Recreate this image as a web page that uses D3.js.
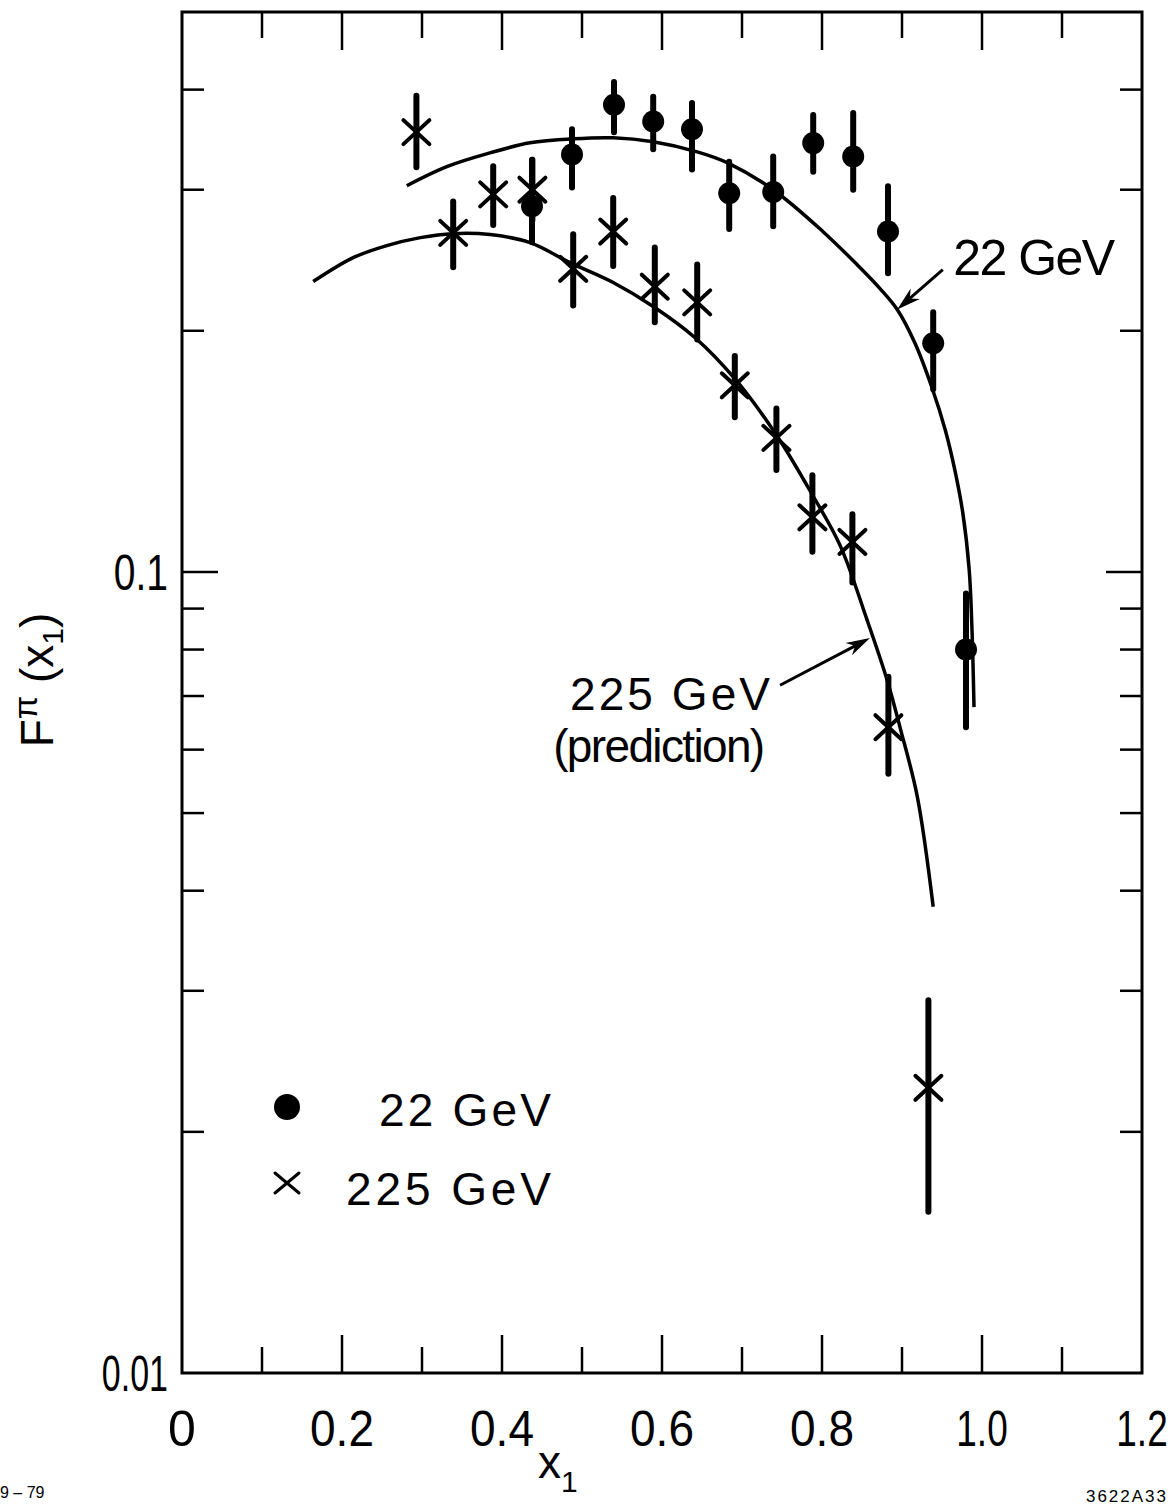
<!DOCTYPE html>
<html>
<head>
<meta charset="utf-8">
<script src="https://cdn.jsdelivr.net/npm/d3@7"></script>
<style>
  body { margin: 0; background: #fff; }
  svg { display: block; font-family: "Liberation Sans", Arial, sans-serif; }
</style>
</head>
<body>
<div id="chart"></div>
<script>
// x axis ticks
const xMajor = [0, 0.2, 0.4, 0.6, 0.8, 1.0, 1.2];
const xMajorLabels = ["0", "0.2", "0.4", "0.6", "0.8", "1.0", "1.2"];
const xMinor = [0.1, 0.3, 0.5, 0.7, 0.9, 1.1];
// y axis (log) ticks
const yLabelled = [0.01, 0.1];
const yLabels = ["0.01", "0.1"];
const yMinor = [0.02, 0.03, 0.04, 0.05, 0.06, 0.07, 0.08, 0.09, 0.2, 0.3, 0.4];

// 22 GeV data (filled circles)
const x22 = [0.4375, 0.4875, 0.54, 0.589, 0.6375, 0.684, 0.739, 0.789, 0.839, 0.8825, 0.939, 0.98];
const y22 = [0.286, 0.332, 0.383, 0.365, 0.357, 0.297, 0.298, 0.343, 0.330, 0.266, 0.193, 0.080];
const y22hi = [0.327, 0.357, 0.409, 0.392, 0.385, 0.325, 0.330, 0.372, 0.374, 0.303, 0.211, 0.094];
const y22lo = [0.258, 0.302, 0.354, 0.337, 0.318, 0.268, 0.270, 0.316, 0.300, 0.236, 0.169, 0.064];

// 225 GeV data (crosses)
const x225 = [0.293, 0.339, 0.389, 0.438, 0.489, 0.539, 0.591, 0.644, 0.691, 0.743, 0.788, 0.838, 0.883, 0.933];
const y225 = [0.354, 0.265, 0.296, 0.300, 0.239, 0.266, 0.227, 0.217, 0.171, 0.147, 0.117, 0.109, 0.064, 0.0227];
const y225hi = [0.393, 0.290, 0.321, 0.327, 0.264, 0.293, 0.254, 0.242, 0.186, 0.160, 0.132, 0.118, 0.074, 0.0292];
const y225lo = [0.320, 0.240, 0.271, 0.275, 0.215, 0.241, 0.205, 0.195, 0.156, 0.134, 0.106, 0.097, 0.056, 0.0159];

// theory curves
const curve22X = [0.281, 0.331, 0.385, 0.435, 0.489, 0.539, 0.589, 0.644, 0.682, 0.739, 0.801, 0.844, 0.8725, 0.894, 0.916, 0.9375, 0.954, 0.966, 0.976, 0.984, 0.9875, 0.990];
const curve22Y = [0.3035, 0.3206, 0.3335, 0.3433, 0.3473, 0.3483, 0.3443, 0.3345, 0.3241, 0.3000, 0.2661, 0.2418, 0.2258, 0.2126, 0.1932, 0.1698, 0.1505, 0.1341, 0.1185, 0.1006, 0.0846, 0.0678];
const curve225X = [0.164, 0.214, 0.256, 0.298, 0.339, 0.385, 0.435, 0.485, 0.539, 0.589, 0.641, 0.692, 0.744, 0.789, 0.823, 0.856, 0.881, 0.898, 0.919, 0.939];
const curve225Y = [0.2304, 0.2468, 0.2555, 0.2614, 0.2644, 0.2637, 0.2577, 0.2433, 0.2298, 0.2145, 0.1962, 0.1738, 0.1477, 0.1243, 0.1077, 0.0873, 0.0735, 0.0637, 0.0525, 0.0382];

// annotation anchors, in data units
const note22 = { tip: [0.894, 0.2126], tail: [0.951, 0.2385], text: [0.964, 0.235] };
const note225 = { tip: [0.86, 0.0827], tail: [0.7475, 0.0722], text1: [0.735, 0.0672], text2: [0.729, 0.0579] };

const W = 1171, H = 1506;
const svg = d3.select("#chart").append("svg")
  .attr("width", W)
  .attr("height", H);

const x = d3.scaleLinear().domain([0, 1.2]).range([182, 1142]);
const y = d3.scaleLog().domain([0.01, 0.5]).range([1373, 12]);

// frame
svg.append("rect")
  .attr("x", x(0)).attr("y", y(0.5))
  .attr("width", x(1.2) - x(0)).attr("height", y(0.01) - y(0.5))
  .attr("fill", "none").attr("stroke", "#000").attr("stroke-width", 3);

// ticks on all four sides
const tickG = svg.append("g").attr("stroke", "#000").attr("stroke-width", 2.5);
function vTicks(vals, len) {
  vals.forEach(v => {
    tickG.append("line").attr("x1", x(v)).attr("x2", x(v))
      .attr("y1", y(0.01)).attr("y2", y(0.01) - len);
    tickG.append("line").attr("x1", x(v)).attr("x2", x(v))
      .attr("y1", y(0.5)).attr("y2", y(0.5) + len);
  });
}
vTicks(xMajor.slice(1, -1), 38);
vTicks(xMinor, 26);
function hTicks(vals, len) {
  vals.forEach(v => {
    tickG.append("line").attr("x1", x(0)).attr("x2", x(0) + len)
      .attr("y1", y(v)).attr("y2", y(v));
    tickG.append("line").attr("x1", x(1.2)).attr("x2", x(1.2) - len)
      .attr("y1", y(v)).attr("y2", y(v));
  });
}
hTicks([0.1], 36);
hTicks(yMinor, 22);

// tick labels: the original lettering is narrow, so squeeze horizontally
const labelScale = s => s.length === 1 ? 1 : (s[0] === "1" ? 0.74 : 0.92);
svg.append("g").selectAll("text").data(xMajor).join("text")
  .attr("transform", (d, i) => `translate(${x(d)},1446) scale(${labelScale(xMajorLabels[i])},1)`)
  .attr("text-anchor", "middle")
  .attr("font-size", 50)
  .text((d, i) => xMajorLabels[i]);

svg.append("g").selectAll("text").data(yLabelled).join("text")
  .attr("transform", d => `translate(168,${y(d) + 18}) scale(${d === 0.1 ? 0.78 : 0.68},1)`)
  .attr("text-anchor", "end")
  .attr("font-size", 50)
  .text((d, i) => yLabels[i]);

// axis titles
const yTitle = svg.append("text")
  .attr("transform", "translate(53,680) rotate(-90)")
  .attr("text-anchor", "middle")
  .attr("font-size", 46);
yTitle.append("tspan").text("F");
yTitle.append("tspan").attr("font-size", 34).attr("dy", -16).text("π");
yTitle.append("tspan").attr("dy", 16).text(" (x");
yTitle.append("tspan").attr("font-size", 30).attr("dy", 10).text("1");
yTitle.append("tspan").attr("dy", -10).text(")");

const xTitle = svg.append("text")
  .attr("x", 538).attr("y", 1478)
  .attr("font-size", 46);
xTitle.append("tspan").text("x");
xTitle.append("tspan").attr("font-size", 30).attr("dy", 14).text("1");

// curves
const line = d3.line()
  .x(d => x(d[0]))
  .y(d => y(d[1]))
  .curve(d3.curveCatmullRom.alpha(0.5));

svg.append("path")
  .datum(curve22X.map((v, i) => [v, curve22Y[i]]))
  .attr("d", line)
  .attr("fill", "none").attr("stroke", "#000").attr("stroke-width", 3.5);

svg.append("path")
  .datum(curve225X.map((v, i) => [v, curve225Y[i]]))
  .attr("d", line)
  .attr("fill", "none").attr("stroke", "#000").attr("stroke-width", 3.5);

// error bars
const bars = svg.append("g").attr("stroke", "#000").attr("stroke-width", 6).attr("stroke-linecap", "round");
x22.forEach((v, i) => {
  bars.append("line").attr("x1", x(v)).attr("x2", x(v))
    .attr("y1", y(y22hi[i])).attr("y2", y(y22lo[i]));
});
x225.forEach((v, i) => {
  bars.append("line").attr("x1", x(v)).attr("x2", x(v))
    .attr("y1", y(y225hi[i])).attr("y2", y(y225lo[i]));
});

// circles
svg.append("g").selectAll("circle").data(x22).join("circle")
  .attr("cx", d => x(d))
  .attr("cy", (d, i) => y(y22[i]))
  .attr("r", 11)
  .attr("fill", "#000");

// crosses
function cross(g, cx, cy, hw, hh, sw) {
  g.append("path")
    .attr("d", `M${cx - hw},${cy - hh}L${cx + hw},${cy + hh}M${cx - hw},${cy + hh}L${cx + hw},${cy - hh}`)
    .attr("stroke", "#000").attr("stroke-width", sw).attr("stroke-linecap", "round")
    .attr("fill", "none");
}
const crossG = svg.append("g");
x225.forEach((v, i) => cross(crossG, x(v), y(y225[i]), 13, 12, 4));

// annotations with arrows
function arrow(tail, tip) {
  const x1 = x(tail[0]), y1 = y(tail[1]), x2 = x(tip[0]), y2 = y(tip[1]);
  const a = Math.atan2(y2 - y1, x2 - x1);
  const L = 24, w = 7;
  const bx = x2 - L * Math.cos(a), by = y2 - L * Math.sin(a);
  const nx = -Math.sin(a) * w, ny = Math.cos(a) * w;
  const mx = x2 - 0.7 * L * Math.cos(a), my = y2 - 0.7 * L * Math.sin(a);
  svg.append("line").attr("x1", x1).attr("y1", y1).attr("x2", mx).attr("y2", my)
    .attr("stroke", "#000").attr("stroke-width", 3);
  svg.append("path")
    .attr("d", `M${x2},${y2}L${bx + nx},${by + ny}L${mx},${my}L${bx - nx},${by - ny}Z`)
    .attr("fill", "#000");
}
arrow(note22.tail, note22.tip);
arrow(note225.tail, note225.tip);

svg.append("text")
  .attr("x", x(note22.text[0])).attr("y", y(note22.text[1]))
  .attr("font-size", 50)
  .attr("textLength", 162).attr("lengthAdjust", "spacing")
  .text("22 GeV");

svg.append("text")
  .attr("x", x(note225.text1[0])).attr("y", y(note225.text1[1]))
  .attr("text-anchor", "end")
  .attr("font-size", 46)
  .attr("textLength", 200).attr("lengthAdjust", "spacing")
  .text("225 GeV");

svg.append("text")
  .attr("x", x(note225.text2[0])).attr("y", y(note225.text2[1]))
  .attr("text-anchor", "end")
  .attr("font-size", 46)
  .attr("textLength", 212).attr("lengthAdjust", "spacing")
  .text("(prediction)");

// legend
const legend = svg.append("g");
legend.append("circle").attr("cx", 287).attr("cy", 1107).attr("r", 13).attr("fill", "#000");
cross(legend, 287, 1183, 12, 10, 3);
legend.append("text")
  .attr("x", 551).attr("y", 1126)
  .attr("text-anchor", "end").attr("font-size", 46)
  .attr("textLength", 172).attr("lengthAdjust", "spacing")
  .text("22 GeV");
legend.append("text")
  .attr("x", 551).attr("y", 1205)
  .attr("text-anchor", "end").attr("font-size", 46)
  .attr("textLength", 205).attr("lengthAdjust", "spacing")
  .text("225 GeV");

// corner marks
svg.append("text").attr("x", 0).attr("y", 1498).attr("font-size", 16).text("9 – 79");
svg.append("text").attr("x", 1168).attr("y", 1502).attr("text-anchor", "end")
  .attr("font-size", 17).attr("letter-spacing", 2).text("3622A33");
</script>
</body>
</html>
